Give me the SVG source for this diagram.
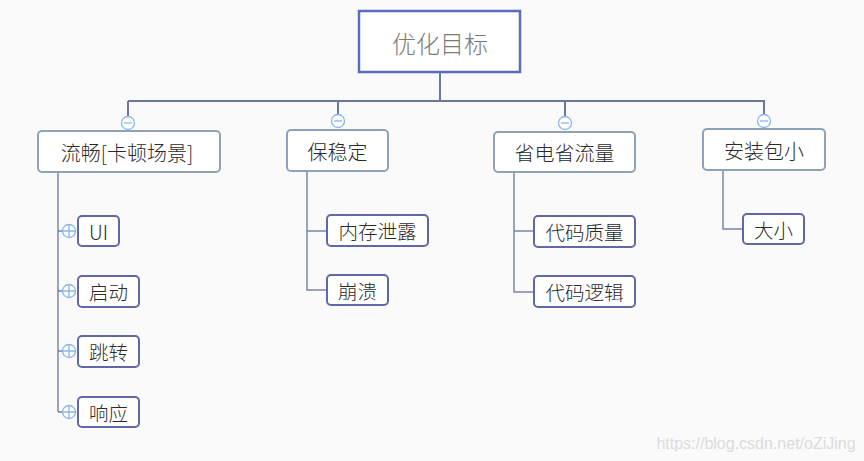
<svg xmlns="http://www.w3.org/2000/svg" width="864" height="461" viewBox="0 0 864 461">
<defs>
<style>
.bg{fill:#fafafa}
.ln{fill:none;stroke:#6b7899;stroke-width:2}
.sl{fill:none;stroke:#7a86a8;stroke-width:1.5}
.root{fill:#fff;stroke:#5a6cc0;stroke-width:2.5}
.main{fill:#fff;stroke:#8ea2b8;stroke-width:2}
.sub{fill:#fff;stroke:#6268a6;stroke-width:2}
.t{font-family:"Noto Sans CJK SC","Liberation Sans",sans-serif;fill:#2a2a2a;text-anchor:middle;dominant-baseline:central;font-weight:300}
.tr{font-size:24px;fill:#7a7a7a}
.tm{font-size:20px}
.ts{font-size:19.5px}
.ci{fill:#fff;stroke:#8bb6e8;stroke-width:1.3}
.cl{stroke:#8bb6e8;stroke-width:1.3}
</style>
</defs>
<rect class="bg" x="0" y="0" width="864" height="461"/>
<g id="connectors">
<path class="ln" d="M440 72V101M128 101H765M128 101V117M338 101V115M565 101V117M764 101V115"/>
<path class="sl" d="M58 172V412M58 231H62M58 291H62M58 351H62M58 412H62"/>
<path class="sl" d="M307 171V290H327M307 231H327"/>
<path class="sl" d="M514 172V292H534M514 231H534"/>
<path class="sl" d="M723 170V229H743"/>
</g>
<g id="root"><rect class="root" x="359" y="11" width="161" height="61"/><text class="t tr" x="440" y="42">优化目标</text></g>
<g id="n1"><rect class="main" x="38" y="131" width="182" height="41" rx="4"/><text class="t tm" x="127" y="152">流畅[卡顿场景]</text>
<circle class="ci" cx="128" cy="123" r="6.5"/><path class="cl" d="M124 123H132"/></g>
<g id="n2"><rect class="main" x="287" y="130" width="101" height="41" rx="4"/><text class="t tm" x="337.5" y="151">保稳定</text>
<circle class="ci" cx="338" cy="121" r="6.5"/><path class="cl" d="M334 121H342"/></g>
<g id="n3"><rect class="main" x="494" y="132" width="141" height="40" rx="4"/><text class="t tm" x="564.5" y="152">省电省流量</text>
<circle class="ci" cx="565" cy="123" r="6.5"/><path class="cl" d="M561 123H569"/></g>
<g id="n4"><rect class="main" x="703" y="129" width="122" height="41" rx="4"/><text class="t tm" x="764" y="150">安装包小</text>
<circle class="ci" cx="764" cy="121" r="6.5"/><path class="cl" d="M760 121H768"/></g>
<g id="c-ui"><circle class="ci" cx="69" cy="231" r="6.5"/><path class="cl" d="M62.5 231H75.5M69 224.5V237.5"/><rect class="sub" x="78" y="216" width="41" height="30" rx="4"/><text class="t ts" x="98.5" y="231">UI</text></g>
<g id="c-qd"><circle class="ci" cx="69" cy="291" r="6.5"/><path class="cl" d="M62.5 291H75.5M69 284.5V297.5"/><rect class="sub" x="78" y="276" width="61" height="31" rx="4"/><text class="t ts" x="108.5" y="291.5">启动</text></g>
<g id="c-tz"><circle class="ci" cx="69" cy="351" r="6.5"/><path class="cl" d="M62.5 351H75.5M69 344.5V357.5"/><rect class="sub" x="78" y="336" width="61" height="31" rx="4"/><text class="t ts" x="108.5" y="351.5">跳转</text></g>
<g id="c-xy"><circle class="ci" cx="69" cy="412" r="6.5"/><path class="cl" d="M62.5 412H75.5M69 405.5V418.5"/><rect class="sub" x="78" y="397" width="61" height="30" rx="4"/><text class="t ts" x="108.5" y="412">响应</text></g>
<g id="c-nc"><rect class="sub" x="327" y="215" width="101" height="31" rx="4"/><text class="t ts" x="377.5" y="230.5">内存泄露</text></g>
<g id="c-bk"><rect class="sub" x="327" y="275" width="61" height="30" rx="4"/><text class="t ts" x="357.5" y="290">崩溃</text></g>
<g id="c-zl"><rect class="sub" x="534" y="216" width="101" height="31" rx="4"/><text class="t ts" x="584.5" y="231.5">代码质量</text></g>
<g id="c-lj"><rect class="sub" x="534" y="276" width="101" height="31" rx="4"/><text class="t ts" x="584.5" y="291.5">代码逻辑</text></g>
<g id="c-dx"><rect class="sub" x="743" y="214" width="61" height="30" rx="4"/><text class="t ts" x="773.5" y="229">大小</text></g>
<text x="756" y="443" style="font-family:'Liberation Sans',sans-serif;font-size:16px;fill:#dcdcdc;text-anchor:middle;dominant-baseline:central">https://blog.csdn.net/oZiJing</text>
</svg>
